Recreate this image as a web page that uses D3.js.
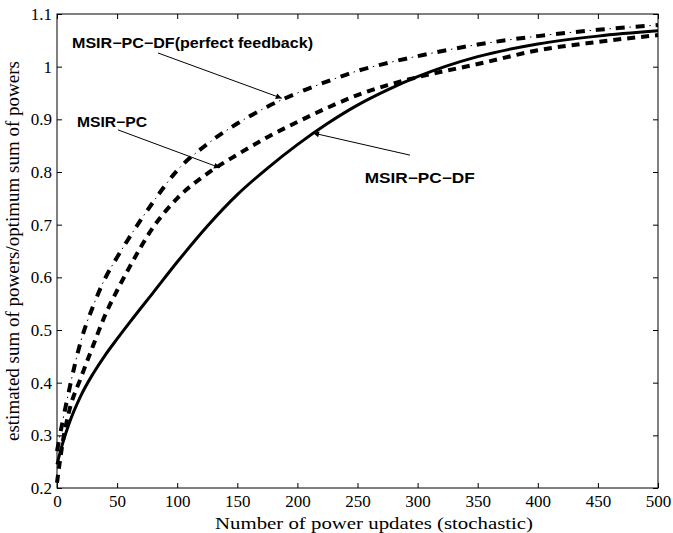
<!DOCTYPE html>
<html>
<head>
<meta charset="utf-8">
<script src="https://cdn.jsdelivr.net/npm/d3@7"></script>
<style>
  body { margin: 0; background: #fff; }
  svg { display: block; }
</style>
</head>
<body>
<svg id="chart"></svg>
<script>
// power updates (x axis)
const updates = [0, 5, 10, 20, 30, 40, 50, 60, 80, 100, 125, 150, 175, 200, 225, 250, 275, 300, 350, 400, 450, 500];

// MSIR-PC-DF (solid)
const pcDf = [0.245, 0.287, 0.322, 0.376, 0.417, 0.452, 0.483, 0.513, 0.571, 0.629, 0.697, 0.757, 0.807, 0.852, 0.892, 0.927, 0.956, 0.981, 1.019, 1.043, 1.058, 1.068];

// MSIR-PC (dashed)
const pc = [0.21, 0.29, 0.345, 0.41, 0.47, 0.528, 0.575, 0.618, 0.695, 0.75, 0.797, 0.833, 0.866, 0.895, 0.922, 0.946, 0.965, 0.98, 1.005, 1.031, 1.047, 1.06];

// MSIR-PC-DF perfect feedback (dash-dot)
const pcDfPerfect = [0.27, 0.33, 0.385, 0.48, 0.545, 0.598, 0.638, 0.675, 0.743, 0.803, 0.853, 0.892, 0.924, 0.95, 0.972, 0.992, 1.007, 1.02, 1.042, 1.058, 1.07, 1.079];

const xTicks = [0, 50, 100, 150, 200, 250, 300, 350, 400, 450, 500];
const yTicks = [0.2, 0.3, 0.4, 0.5, 0.6, 0.7, 0.8, 0.9, 1, 1.1];

// annotations: label text, text anchor point, arrow start, arrow tip (data units)
const notes = [
  { text: "MSIR\u2212PC\u2212DF(perfect feedback)", tx: 12.5, ty: 1.035, len: 241, x0: 84, y0: 1.026, x1: 187, y1: 0.94 },
  { text: "MSIR\u2212PC", tx: 16.6, ty: 0.885, len: 70, x0: 50.7, y0: 0.88, x1: 135.6, y1: 0.808 },
  { text: "MSIR\u2212PC\u2212DF", tx: 256, ty: 0.779, len: 110, x0: 293.7, y0: 0.832, x1: 213, y1: 0.874 }
];

const width = 673;
const height = 533;
const margin = { top: 14, right: 15, bottom: 45, left: 57 };

const svg = d3.select("#chart")
  .attr("width", width)
  .attr("height", height);

const x = d3.scaleLinear().domain([0, 500]).range([margin.left, width - margin.right]);
const y = d3.scaleLinear().domain([0.2, 1.1]).range([height - margin.bottom, margin.top]);

const serif = "'Liberation Serif', 'Times New Roman', serif";
const sans = "'Liberation Sans', Arial, Helvetica, sans-serif";

// axes with inward ticks on all four sides
const axisBottom = svg.append("g")
  .attr("transform", `translate(0,${y(0.2)})`)
  .call(d3.axisBottom(x).tickValues(xTicks).tickSize(-5).tickPadding(7).tickFormat(d3.format("d")));
const axisTop = svg.append("g")
  .attr("transform", `translate(0,${y(1.1)})`)
  .call(d3.axisTop(x).tickValues(xTicks).tickSize(-5).tickFormat(""));
const axisLeft = svg.append("g")
  .attr("transform", `translate(${x(0)},0)`)
  .call(d3.axisLeft(y).tickValues(yTicks).tickSize(-5).tickPadding(5).tickFormat(d => d === 1 ? "1" : d3.format(".1f")(d)));
const axisRight = svg.append("g")
  .attr("transform", `translate(${x(500)},0)`)
  .call(d3.axisRight(y).tickValues(yTicks).tickSize(-5).tickFormat(""));

[axisBottom, axisTop, axisLeft, axisRight].forEach(a => {
  a.select(".domain").remove();
  a.selectAll(".tick line").attr("stroke", "#000").attr("stroke-width", 1);
  a.selectAll("text").attr("fill", "#000").style("font-family", serif).style("font-size", "17px");
});

// frame
svg.append("rect")
  .attr("x", x(0))
  .attr("y", y(1.1))
  .attr("width", x(500) - x(0))
  .attr("height", y(0.2) - y(1.1))
  .attr("fill", "none")
  .attr("stroke", "#000")
  .attr("stroke-width", 1);

// curves
const plot = svg.append("g");
const line = d3.line()
  .x((d, i) => x(updates[i]))
  .y(d => y(d))
  .curve(d3.curveMonotoneX);

plot.append("path")
  .attr("d", line(pcDf))
  .attr("fill", "none")
  .attr("stroke", "#000")
  .attr("stroke-width", 3);

plot.append("path")
  .attr("d", line(pc))
  .attr("fill", "none")
  .attr("stroke", "#000")
  .attr("stroke-width", 4)
  .attr("stroke-dasharray", "8,6");

// dash-dot: thick dashes plus thin dots in between
plot.append("path")
  .attr("d", line(pcDfPerfect))
  .attr("fill", "none")
  .attr("stroke", "#000")
  .attr("stroke-width", 4)
  .attr("stroke-dasharray", "9,11");
plot.append("path")
  .attr("d", line(pcDfPerfect))
  .attr("fill", "none")
  .attr("stroke", "#000")
  .attr("stroke-width", 1)
  .attr("stroke-dasharray", "1.5,18.5")
  .attr("stroke-dashoffset", 20 - 13.75);

// arrow marker
svg.append("defs").append("marker")
  .attr("id", "arrow")
  .attr("viewBox", "0 0 10 10")
  .attr("refX", 10)
  .attr("refY", 5)
  .attr("markerWidth", 10)
  .attr("markerHeight", 6)
  .attr("markerUnits", "userSpaceOnUse")
  .attr("orient", "auto")
  .append("path")
  .attr("d", "M0,0L10,5L0,10Z")
  .attr("fill", "#000");

const ann = svg.append("g");
notes.forEach(n => {
  ann.append("line")
    .attr("x1", x(n.x0)).attr("y1", y(n.y0))
    .attr("x2", x(n.x1)).attr("y2", y(n.y1))
    .attr("stroke", "#000")
    .attr("stroke-width", 1)
    .attr("marker-end", "url(#arrow)");
  ann.append("text")
    .attr("x", x(n.tx))
    .attr("y", y(n.ty))
    .attr("textLength", n.len)
    .attr("lengthAdjust", "spacingAndGlyphs")
    .style("font-family", sans)
    .style("font-weight", "bold")
    .style("font-size", "14px")
    .text(n.text);
});

// axis labels
svg.append("text")
  .attr("x", 215)
  .attr("y", 529)
  .attr("textLength", 318)
  .attr("lengthAdjust", "spacingAndGlyphs")
  .style("font-family", serif)
  .style("font-size", "17px")
  .text("Number of power updates (stochastic)");

svg.append("text")
  .attr("transform", `translate(19,${(y(0.2) + y(1.1)) / 2}) rotate(-90)`)
  .attr("text-anchor", "middle")
  .style("font-family", serif)
  .style("font-size", "19px")
  .text("estimated sum of powers/optimum sum of powers");
</script>
</body>
</html>
